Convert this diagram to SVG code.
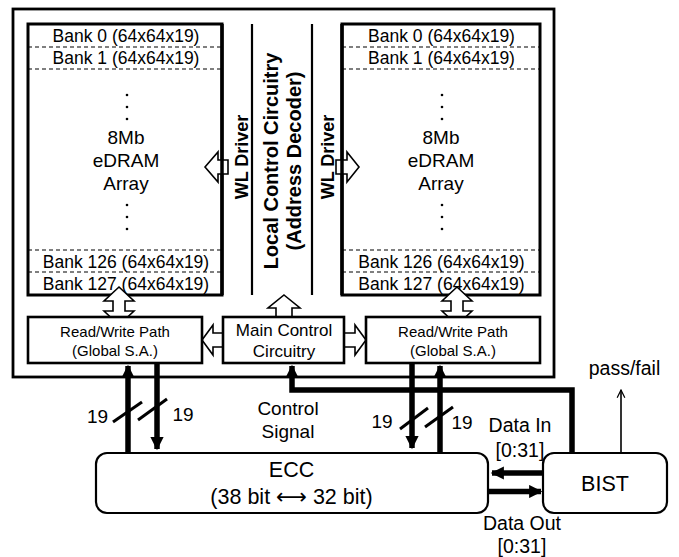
<svg xmlns="http://www.w3.org/2000/svg" width="679" height="557" viewBox="0 0 679 557">
<style>
text{font-family:"Liberation Sans",Arial,"DejaVu Sans",sans-serif;fill:#000}
.bank{font-size:17.5px;text-anchor:middle}
.big{font-size:19px;text-anchor:middle}
.bold{font-weight:bold;text-anchor:middle}
.rw{font-size:15px;text-anchor:middle}
.box{fill:#fff;stroke:#000}
.dash{stroke:#000;stroke-width:1.2;stroke-dasharray:4 3;fill:none}
.hollow{fill:#fff;stroke:#000;stroke-width:1.6;stroke-linejoin:miter}
.thick{stroke:#000;stroke-width:5.5;fill:none}
.dot{fill:#000}
</style>
<defs>
<marker id="ah" viewBox="0 0 10 10" refX="9" refY="5" markerWidth="2.6" markerHeight="2.4" orient="auto" markerUnits="strokeWidth">
<path d="M0,0 L10,5 L0,10 z" fill="#000"/>
</marker>
<marker id="open" viewBox="0 0 10 10" refX="9" refY="5" markerWidth="6" markerHeight="6" orient="auto" markerUnits="strokeWidth">
<path d="M1,1 L9,5 L1,9" fill="none" stroke="#000" stroke-width="1.3"/>
</marker>
</defs>
<rect width="679" height="557" fill="#fff"/>

<g id="chip">
<rect x="13" y="9" width="541" height="368" class="box" stroke-width="2.8"/>
</g>

<g id="left-array">
<rect x="28" y="24" width="194" height="271" class="box" stroke-width="3"/>
<line x1="28" y1="47" x2="222" y2="47" class="dash"/>
<line x1="28" y1="69" x2="222" y2="69" class="dash"/>
<line x1="28" y1="250" x2="222" y2="250" class="dash"/>
<line x1="28" y1="272" x2="222" y2="272" class="dash"/>
<text class="bank" x="126" y="42">Bank 0 (64x64x19)</text>
<text class="bank" x="126" y="64">Bank 1 (64x64x19)</text>
<text class="bank" x="126" y="268">Bank 126 (64x64x19)</text>
<text class="bank" x="126" y="290">Bank 127 (64x64x19)</text>
<circle class="dot" cx="127" cy="95" r="1.3"/><circle class="dot" cx="127" cy="107" r="1.3"/><circle class="dot" cx="127" cy="119" r="1.3"/>
<circle class="dot" cx="127" cy="205" r="1.3"/><circle class="dot" cx="127" cy="217" r="1.3"/><circle class="dot" cx="127" cy="229" r="1.3"/>
<text class="big" x="126" y="144">8Mb</text>
<text class="big" x="126" y="167">eDRAM</text>
<text class="big" x="126" y="190">Array</text>
</g>

<g id="right-array">
<rect x="342" y="24" width="198" height="271" class="box" stroke-width="3"/>
<line x1="342" y1="47" x2="540" y2="47" class="dash"/>
<line x1="342" y1="69" x2="540" y2="69" class="dash"/>
<line x1="342" y1="250" x2="540" y2="250" class="dash"/>
<line x1="342" y1="272" x2="540" y2="272" class="dash"/>
<text class="bank" x="441.5" y="42">Bank 0 (64x64x19)</text>
<text class="bank" x="441.5" y="64">Bank 1 (64x64x19)</text>
<text class="bank" x="441.5" y="268">Bank 126 (64x64x19)</text>
<text class="bank" x="441.5" y="290">Bank 127 (64x64x19)</text>
<circle class="dot" cx="442" cy="95" r="1.3"/><circle class="dot" cx="442" cy="107" r="1.3"/><circle class="dot" cx="442" cy="119" r="1.3"/>
<circle class="dot" cx="442" cy="205" r="1.3"/><circle class="dot" cx="442" cy="217" r="1.3"/><circle class="dot" cx="442" cy="229" r="1.3"/>
<text class="big" x="441" y="144">8Mb</text>
<text class="big" x="441" y="167">eDRAM</text>
<text class="big" x="441" y="190">Array</text>
</g>

<g id="connectors">
<polygon class="hollow" points="205,167 218,152 218,160 228,160 228,174 218,174 218,182"/>
<polygon class="hollow" points="359,167 347,152 347,160 336,160 336,174 347,174 347,182"/>
<polygon class="hollow" points="119,287 134,301 125,301 125,311 134,311 119,325 104,311 113,311 113,301 104,301"/>
<polygon class="hollow" points="457,287 472,301 463,301 463,311 472,311 457,325 442,311 451,311 451,301 442,301"/>
<polygon class="hollow" points="284,295 300,308 292,308 292,317 276,317 276,308 268,308"/>
<polygon class="hollow" points="202,340 213,325 213,333 223,333 223,347 213,347 213,355"/>
<polygon class="hollow" points="366,340 355,325 355,333 344,333 344,347 355,347 355,355"/>
<line class="thick" x1="128" y1="453" x2="128" y2="366" marker-end="url(#ah)"/>
<line class="thick" x1="157" y1="363" x2="157" y2="449" marker-end="url(#ah)"/>
<line class="thick" x1="412" y1="363" x2="412" y2="448" marker-end="url(#ah)"/>
<line class="thick" x1="440" y1="453" x2="440" y2="366" marker-end="url(#ah)"/>
<polyline class="thick" points="572,453 572,390 292,390 292,366" stroke-linejoin="miter" marker-end="url(#ah)"/>
<line class="thick" x1="543" y1="473" x2="492" y2="473" marker-end="url(#ah)"/>
<line class="thick" x1="488" y1="491.5" x2="541" y2="491.5" marker-end="url(#ah)"/>
<line x1="621" y1="453" x2="621" y2="390" stroke="#000" stroke-width="1.6" marker-end="url(#open)"/>
<line x1="113" y1="422" x2="142" y2="402" stroke="#000" stroke-width="3"/>
<line x1="138" y1="420" x2="167" y2="399" stroke="#000" stroke-width="3"/>
<line x1="400" y1="429" x2="428" y2="408" stroke="#000" stroke-width="3"/>
<line x1="425" y1="427" x2="453" y2="407" stroke="#000" stroke-width="3"/>
</g>

<g id="wl-driver-left">
<line x1="222" y1="24" x2="222" y2="295" stroke="#000" stroke-width="3.5"/>
<text class="bold" font-size="18" transform="translate(248,157) rotate(-90)">WL Driver</text>
</g>

<g id="local-control">
<line x1="252" y1="24" x2="252" y2="295" stroke="#000" stroke-width="2.2"/>
<line x1="312" y1="24" x2="312" y2="295" stroke="#000" stroke-width="2.2"/>
<text class="bold" font-size="20" transform="translate(278,161) rotate(-90)">Local Control Circuitry</text>
<text class="bold" font-size="20" transform="translate(301,161) rotate(-90)">(Address Decoder)</text>
</g>

<g id="wl-driver-right">
<line x1="342" y1="24" x2="342" y2="295" stroke="#000" stroke-width="3.5"/>
<text class="bold" font-size="18" transform="translate(334,157) rotate(-90)">WL Driver</text>
</g>

<g id="rw-left">
<rect x="28" y="317" width="174" height="46" class="box" stroke-width="2.6"/>
<text class="rw" x="115" y="337">Read/Write Path</text>
<text class="rw" x="115" y="356">(Global S.A.)</text>
</g>

<g id="main-control">
<rect x="223" y="317" width="121" height="46" class="box" stroke-width="2.6"/>
<text x="284" y="336" font-size="17" text-anchor="middle">Main Control</text>
<text x="284" y="357" font-size="17" text-anchor="middle">Circuitry</text>
</g>

<g id="rw-right">
<rect x="366" y="317" width="174" height="46" class="box" stroke-width="2.6"/>
<text class="rw" x="453" y="337">Read/Write Path</text>
<text class="rw" x="453" y="356">(Global S.A.)</text>
</g>

<g id="ecc">
<rect x="96" y="453" width="392" height="60" rx="11" class="box" stroke-width="2.2"/>
<text x="291.5" y="477" font-size="21.5" text-anchor="middle">ECC</text>
<text x="291.5" y="504" font-size="21.5" text-anchor="middle">(38 bit ⟷ 32 bit)</text>
</g>

<g id="bist">
<rect x="543" y="453" width="124" height="60" rx="11" class="box" stroke-width="2.2"/>
<text x="605" y="491" font-size="21.5" text-anchor="middle">BIST</text>
</g>

<g id="labels">
<text x="97.5" y="423" font-size="19" text-anchor="middle">19</text>
<text x="183" y="421" font-size="19" text-anchor="middle">19</text>
<text x="382" y="428" font-size="19" text-anchor="middle">19</text>
<text x="462" y="429" font-size="19" text-anchor="middle">19</text>
<text x="288" y="415" font-size="19" text-anchor="middle">Control</text>
<text x="288" y="438" font-size="19" text-anchor="middle">Signal</text>
<text x="520" y="432" font-size="19.5" text-anchor="middle">Data In</text>
<text x="520" y="457" font-size="19.5" text-anchor="middle">[0:31]</text>
<text x="522" y="530" font-size="19.5" text-anchor="middle">Data Out</text>
<text x="522" y="553" font-size="19.5" text-anchor="middle">[0:31]</text>
<text x="624.5" y="375" font-size="19.5" text-anchor="middle">pass/fail</text>
</g>
</svg>
